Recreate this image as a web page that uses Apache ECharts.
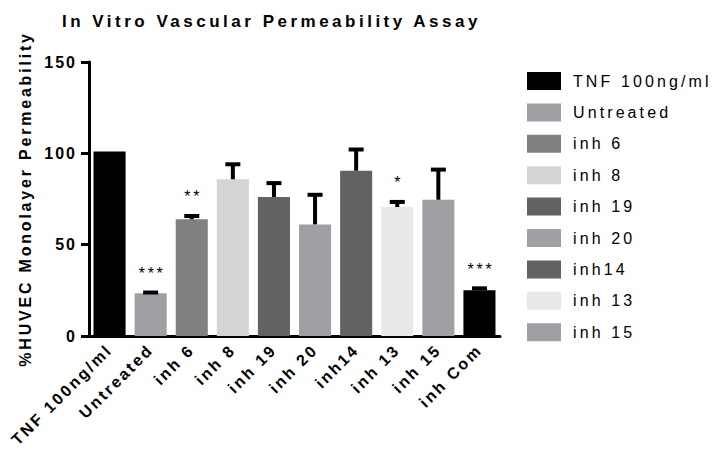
<!DOCTYPE html>
<html>
<head>
<meta charset="utf-8">
<script src="https://cdn.jsdelivr.net/npm/echarts@6/dist/echarts.min.js"></script>
<style>
  html, body { margin: 0; padding: 0; background: #fff; }
  #chart { width: 715px; height: 450px; }
</style>
</head>
<body>
<div id="chart"></div>
<script>
// Treatment groups, in plotting order
const categories = ['TNF 100ng/ml', 'Untreated', 'inh 6', 'inh 8', 'inh 19', 'inh 20', 'inh14', 'inh 13', 'inh 15', 'inh Com'];
// Mean permeability (% of TNF) and upper error (SEM)
const means  = [101, 23.4, 63.9, 85.8, 76.1, 61.1, 90.5, 70.6, 74.6, 25.0];
const errors = [0, 0.4, 1.8, 8.2, 7.6, 16.2, 11.6, 2.8, 16.5, 1.1];
// Significance markers vs TNF
const significance = ['', '***', '**', '', '', '', '', '*', '', '***'];
// Bar fills
const barColors = ['#000000', '#a0a0a4', '#808080', '#d4d4d4', '#626262', '#a0a0a4', '#626262', '#e8e8e8', '#a0a0a4', '#000000'];
// Groups listed in the legend
const legendNames = categories.slice(0, 9);
// Y axis ticks
const yTicks = [0, 50, 100, 150];

const TITLE = 'In Vitro Vascular Permeability Assay';
const Y_NAME = '%HUVEC Monolayer Permeability';
const FONT = "'Liberation Sans', Arial, Helvetica, sans-serif";

const chart = echarts.init(document.getElementById('chart'), null, { renderer: 'svg' });

const barSeries = categories.map((name, i) => ({
  name: name,
  type: 'bar',
  stack: 'groups',
  barWidth: '78%',
  itemStyle: { color: barColors[i] },
  emphasis: { disabled: true },
  data: means.map((v, j) => (j === i ? v : '-'))
}));

const errorSeries = {
  type: 'custom',
  name: 'error',
  z: 10,
  silent: true,
  encode: { x: 0, y: 1 },
  data: means.map((v, i) => [i, v, errors[i]]),
  renderItem: function (params, api) {
    const i = api.value(0);
    const v = api.value(1);
    const e = api.value(2);
    const base = api.coord([i, v]);
    const top = api.coord([i, v + e]);
    const children = [];
    if (e > 0) {
      children.push({
        type: 'line',
        shape: { x1: base[0], y1: base[1], x2: top[0], y2: top[1] },
        style: { stroke: '#000', lineWidth: 4 }
      });
      children.push({
        type: 'line',
        shape: { x1: top[0] - 7.5, y1: top[1], x2: top[0] + 7.5, y2: top[1] },
        style: { stroke: '#000', lineWidth: 4 }
      });
    }
    const s = significance[i];
    if (s) {
      children.push({
        type: 'text',
        x: top[0] + 1.5,
        y: top[1] - 11,
        style: {
          text: s,
          font: '16px ' + FONT,
          fill: '#000',
          align: 'center',
          verticalAlign: 'bottom'
        }
      });
    }
    return { type: 'group', children: children };
  }
};

chart.setOption({
  animation: false,
  backgroundColor: '#fff',
  title: {
    text: TITLE,
    left: 62,
    top: 13,
    padding: 0,
    textStyle: { fontFamily: FONT, fontWeight: 'bold', fontSize: 17, color: '#000' }
  },
  legend: {
    data: legendNames,
    orient: 'vertical',
    left: 527,
    top: 72,
    padding: 0,
    icon: 'rect',
    itemWidth: 34,
    itemHeight: 18,
    itemGap: 13.4,
    selectedMode: false,
    textStyle: { fontFamily: FONT, fontSize: 16, color: '#000', padding: [0, 0, 0, 7] }
  },
  grid: { left: 89, right: 215, top: 62, bottom: 114, containLabel: false },
  xAxis: {
    type: 'category',
    data: categories,
    axisLine: { lineStyle: { color: '#000', width: 3 } },
    axisTick: { alignWithLabel: true, length: 8, lineStyle: { color: '#000', width: 3 } },
    axisLabel: {
      rotate: 45,
      margin: 11,
      interval: 0,
      fontFamily: FONT,
      fontWeight: 'bold',
      fontSize: 16,
      color: '#000'
    }
  },
  yAxis: {
    type: 'value',
    min: yTicks[0],
    max: yTicks[yTicks.length - 1],
    interval: yTicks[1] - yTicks[0],
    name: Y_NAME,
    nameLocation: 'middle',
    nameGap: 56,
    nameTextStyle: { fontFamily: FONT, fontWeight: 'bold', fontSize: 16, color: '#000' },
    splitLine: { show: false },
    axisLine: { show: true, lineStyle: { color: '#000', width: 3 } },
    axisTick: { show: true, length: 8, lineStyle: { color: '#000', width: 3 } },
    axisLabel: { margin: 12, fontFamily: FONT, fontWeight: 'bold', fontSize: 16, color: '#000' }
  },
  series: barSeries.concat([errorSeries])
});

// Widely tracked lettering, as in the printed figure
function trackText() {
  const legendSet = new Set(legendNames);
  const catSet = new Set(categories);
  document.querySelectorAll('#chart svg text').forEach(function (t) {
    const s = t.textContent;
    let sp = 2;
    if (s === TITLE) sp = 3.5;
    else if (s === Y_NAME) sp = 2.8;
    else if (/^\*+$/.test(s)) sp = 2.7;
    else if (legendSet.has(s) && t.getAttribute('text-anchor') !== 'end') sp = 3.1;
    else if (catSet.has(s)) sp = 2.5;
    t.style.letterSpacing = sp + 'px';
  });
}
chart.on('finished', trackText);
trackText();
</script>
</body>
</html>
